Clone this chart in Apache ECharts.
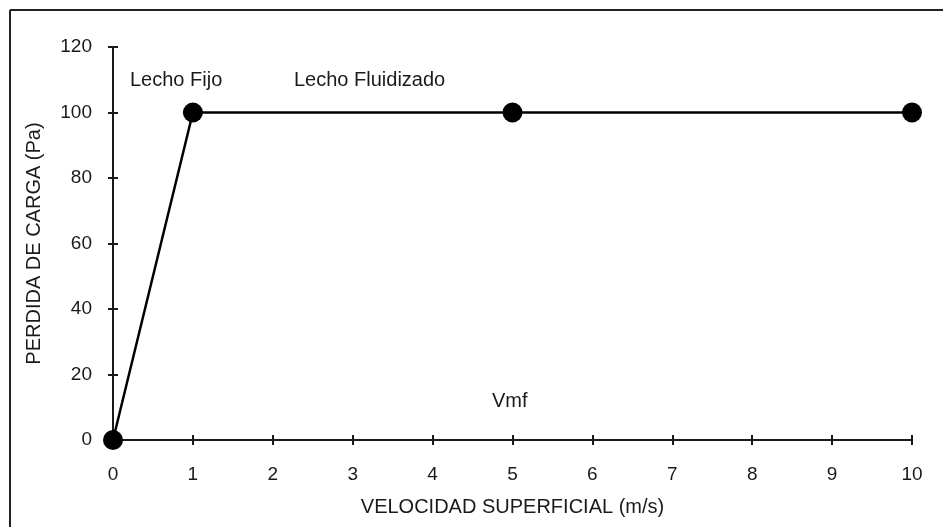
<!DOCTYPE html>
<html>
<head>
<meta charset="utf-8">
<script src="https://cdn.jsdelivr.net/npm/echarts@6/dist/echarts.min.js"></script>
<style>
  html, body { margin: 0; padding: 0; background: #fff; }
  #chart { width: 943px; height: 527px; }
</style>
</head>
<body>
<div id="chart"></div>
<script>
// velocidad superficial (categorias del eje x)
const xTicks = ['0', '1', '2', '3', '4', '5', '6', '7', '8', '9', '10']
// puntos medidos
const xPoints = ['0', '1', '5', '10']
const yPoints = [0, 100, 100, 100]

const font = 'Liberation Sans, Arial, sans-serif'
const ink = '#1a1a1a'

const chart = echarts.init(document.getElementById('chart'))

const option = {
  backgroundColor: '#fff',
  animation: false,
  grid: { left: 113, right: 31, top: 47, bottom: 87 },
  xAxis: [
    {
      type: 'category',
      data: xTicks,
      boundaryGap: false,
      name: 'VELOCIDAD SUPERFICIAL (m/s)',
      nameLocation: 'middle',
      nameGap: 57,
      nameTextStyle: { color: ink, fontSize: 20, fontFamily: font },
      axisLine: { lineStyle: { color: ink, width: 2 } },
      axisTick: { alignWithLabel: true, length: 5, lineStyle: { color: ink, width: 2 } },
      axisLabel: { color: ink, fontSize: 19, fontFamily: font, margin: 25 },
      splitLine: { show: false }
    },
    {
      // solo para las marcas hacia adentro
      type: 'category',
      data: xTicks,
      boundaryGap: false,
      position: 'bottom',
      axisLine: { show: false },
      axisTick: { inside: true, length: 5, lineStyle: { color: ink, width: 2 } },
      axisLabel: { show: false }
    }
  ],
  yAxis: [
    {
      type: 'value',
      min: 0,
      max: 120,
      interval: 20,
      name: 'PERDIDA DE CARGA (Pa)',
      nameLocation: 'middle',
      nameGap: 69,
      nameTextStyle: { color: ink, fontSize: 20, fontFamily: font },
      axisLine: { show: true, lineStyle: { color: ink, width: 2 } },
      axisTick: { show: true, length: 5, lineStyle: { color: ink, width: 2 } },
      axisLabel: { color: ink, fontSize: 19, fontFamily: font, margin: 21 },
      splitLine: { show: false }
    },
    {
      type: 'value',
      min: 0,
      max: 120,
      interval: 20,
      position: 'left',
      axisLine: { show: false },
      axisTick: { show: true, inside: true, length: 5, lineStyle: { color: ink, width: 2 } },
      axisLabel: { show: false },
      splitLine: { show: false }
    }
  ],
  series: [
    {
      type: 'line',
      data: xPoints.map((x, i) => [x, yPoints[i]]),
      symbol: 'circle',
      symbolSize: 20,
      itemStyle: { color: '#000' },
      lineStyle: { color: '#000', width: 2.5 }
    }
  ],
  graphic: [
    { type: 'line', shape: { x1: 10, y1: 10, x2: 943, y2: 10 }, style: { stroke: '#222', lineWidth: 2 } },
    { type: 'line', shape: { x1: 10, y1: 10, x2: 10, y2: 527 }, style: { stroke: '#222', lineWidth: 2 } },
    { type: 'text', left: 130, top: 70, style: { text: 'Lecho Fijo', fill: ink, fontSize: 20, fontFamily: font } },
    { type: 'text', left: 294, top: 70, style: { text: 'Lecho Fluidizado', fill: ink, fontSize: 20, fontFamily: font } },
    { type: 'text', left: 492, top: 391, style: { text: 'Vmf', fill: ink, fontSize: 20, fontFamily: font } }
  ]
}

chart.setOption(option)
</script>
</body>
</html>
